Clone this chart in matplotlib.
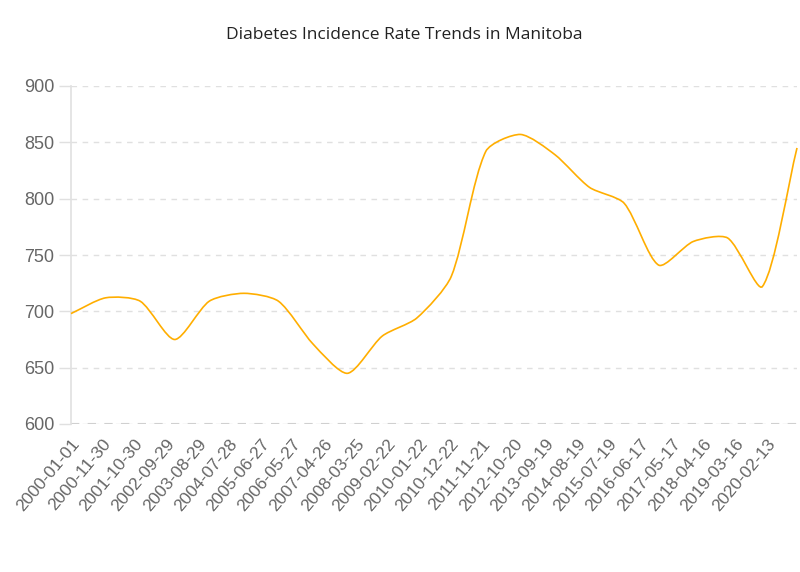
import datetime as dt
import numpy as np
import matplotlib
matplotlib.use('Agg')
import matplotlib.pyplot as plt
import matplotlib.dates as mdates
from matplotlib.path import Path
from matplotlib.patches import PathPatch

plt.rcParams['font.family'] = ['Liberation Sans', 'DejaVu Sans']

# yearly values
years = list(range(2000, 2022))
rates = [698, 712, 709, 675, 709, 716, 709, 671, 645, 678, 694,
         731, 842, 857, 839, 810, 796, 741, 762, 765, 722, 845]

# tick labels, one every 334 days from 2000-01-01
tick_labels = ['2000-01-01', '2000-11-30', '2001-10-30', '2002-09-29', '2003-08-29',
               '2004-07-28', '2005-06-27', '2006-05-27', '2007-04-26', '2008-03-25',
               '2009-02-22', '2010-01-22', '2010-12-22', '2011-11-21', '2012-10-20',
               '2013-09-19', '2014-08-19', '2015-07-19', '2016-06-17', '2017-05-17',
               '2018-04-16', '2019-03-16', '2020-02-13']
y_ticks = [600, 650, 700, 750, 800, 850, 900]

x = mdates.date2num([dt.date(y, 1, 1) for y in years])
y = np.array(rates, dtype=float)
xmin, xmax = x[0], x[-1]
ymin, ymax = 600, 900


def smooth_path(x, y, smooth=0.25):
    # bezier control points like echarts' smooth line, in pixel-ish space
    sx = (x - xmin) / (xmax - xmin) * 726
    sy = (y - ymin) / (ymax - ymin) * 338
    pts = np.column_stack([sx, sy])
    n = len(pts)
    cps = []
    for i in range(n):
        prev = pts[max(i - 1, 0)]
        nxt = pts[min(i + 1, n - 1)]
        v = (nxt - prev) * smooth
        d0 = np.hypot(*(pts[i] - prev))
        d1 = np.hypot(*(nxt - pts[i]))
        s = d0 + d1
        if s:
            d0, d1 = d0 / s, d1 / s
        cps.append((pts[i] - v * d0, pts[i] + v * d1))
    verts = [pts[0]]
    codes = [Path.MOVETO]
    for i in range(1, n):
        verts += [cps[i - 1][1], cps[i][0], pts[i]]
        codes += [Path.CURVE4] * 3
    verts = np.array(verts)
    verts[:, 0] = verts[:, 0] / 726 * (xmax - xmin) + xmin
    verts[:, 1] = verts[:, 1] / 338 * (ymax - ymin) + ymin
    return Path(verts, codes)


fig = plt.figure(figsize=(8, 5.72), dpi=100)
ax = fig.add_axes([71 / 800, 1 - 424 / 572, 726 / 800, 338 / 572])

ax.add_patch(PathPatch(smooth_path(x, y), facecolor='none', edgecolor='#FFAE00',
                       lw=1.2, zorder=3, clip_on=False))

ax.set_xlim(xmin, xmax)
ax.set_ylim(ymin, ymax)

ax.set_yticks(y_ticks)
ax.set_yticklabels([str(v) for v in y_ticks], fontsize=13, color='#666666')
ax.tick_params(axis='y', length=9, color='#e0e0e0', width=1, pad=3)

tick_pos = mdates.date2num([dt.datetime.strptime(t, '%Y-%m-%d') for t in tick_labels])
ax.set_xticks(tick_pos)
ax.set_xticklabels(tick_labels, rotation=50, ha='right', va='top', fontsize=12.5,
                   color='#666666', rotation_mode='anchor')
ax.tick_params(axis='x', length=0, pad=9)

ax.grid(axis='y', color='#e0e0e0', linestyle=(0, (4, 4)), lw=1)
for side in ['top', 'right', 'bottom']:
    ax.spines[side].set_visible(False)
ax.spines['left'].set_color('#e0e0e0')
ax.spines['left'].set_linewidth(1.2)
ax.axhline(600, color='#d0d0d0', linestyle=(0, (4, 4)), lw=1.5, zorder=2)

fig.text(0.505, 1 - 35 / 572, 'Diabetes Incidence Rate Trends in Manitoba',
         ha='center', va='center', fontsize=12.5, color='#222222',
         family=['Open Sans', 'DejaVu Sans'])

fig.savefig('out.png', dpi=100)
